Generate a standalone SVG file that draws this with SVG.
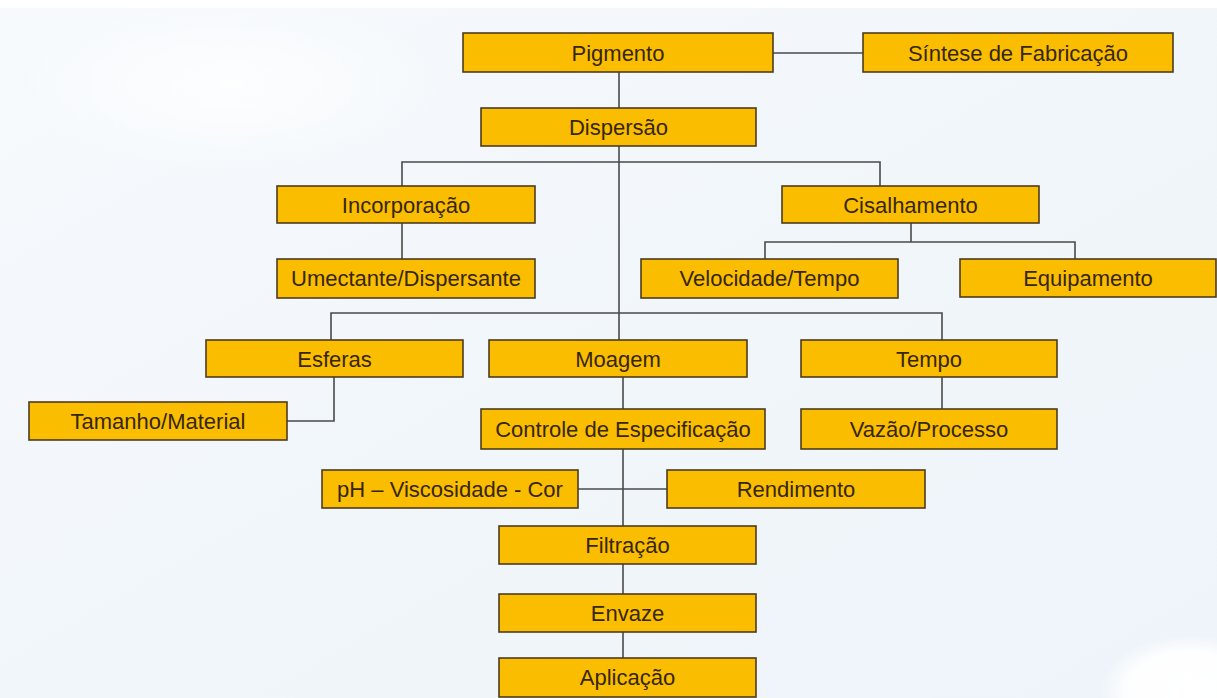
<svg xmlns="http://www.w3.org/2000/svg" width="1217" height="698" viewBox="0 0 1217 698">
<defs>
<linearGradient id="bg" x1="0" y1="0" x2="1" y2="1">
<stop offset="0" stop-color="#f7fafd"/>
<stop offset="0.5" stop-color="#f1f6fa"/>
<stop offset="1" stop-color="#eef4fa"/>
</linearGradient>
<radialGradient id="blob" cx="0.5" cy="0.5" r="0.5">
<stop offset="0" stop-color="#ffffff"/>
<stop offset="0.7" stop-color="#ffffff" stop-opacity="0.9"/>
<stop offset="1" stop-color="#ffffff" stop-opacity="0"/>
</radialGradient>
<radialGradient id="glow" cx="0.5" cy="0.5" r="0.5">
<stop offset="0" stop-color="#ffffff" stop-opacity="0.8"/>
<stop offset="1" stop-color="#ffffff" stop-opacity="0"/>
</radialGradient>
</defs>
<style>
.box{fill:#fbbd00;stroke:#4d3c1e;stroke-width:1.6}
.lbl{font-family:"Liberation Sans",Arial,sans-serif;font-size:22px;fill:#36270c;text-anchor:middle}
.ln{fill:none;stroke:#4a4a4a;stroke-width:1.6}
</style>
<rect x="0" y="0" width="1217" height="698" fill="url(#bg)"/>
<rect x="0" y="0" width="1217" height="8" fill="#ffffff"/>
<ellipse cx="230" cy="85" rx="220" ry="90" fill="url(#glow)"/>
<ellipse cx="1190" cy="690" rx="90" ry="55" fill="url(#blob)"/>
<g id="connectors">
<path class="ln" d="M773 53H863"/>
<path class="ln" d="M619 72V108"/>
<path class="ln" d="M619 146V340"/>
<path class="ln" d="M402 186V162H880V186"/>
<path class="ln" d="M402 223V259"/>
<path class="ln" d="M911 223V242"/>
<path class="ln" d="M765 259V242H1075V259"/>
<path class="ln" d="M331 340V313H942V340"/>
<path class="ln" d="M334 377V421H287"/>
<path class="ln" d="M942 377V409"/>
<path class="ln" d="M623 377V409"/>
<path class="ln" d="M623 449V526"/>
<path class="ln" d="M578 489H667"/>
<path class="ln" d="M623 564V594"/>
<path class="ln" d="M623 632V658"/>
</g>
<g id="pigmento"><rect class="box" x="463" y="33" width="310" height="39"/><text class="lbl" x="618" y="60.5">Pigmento</text></g>
<g id="sintese"><rect class="box" x="863" y="33" width="310" height="39"/><text class="lbl" x="1018" y="60.5">Síntese de Fabricação</text></g>
<g id="dispersao"><rect class="box" x="481" y="108" width="275" height="38"/><text class="lbl" x="618.5" y="135">Dispersão</text></g>
<g id="incorporacao"><rect class="box" x="277" y="186" width="258" height="37"/><text class="lbl" x="406" y="212.5">Incorporação</text></g>
<g id="cisalhamento"><rect class="box" x="782" y="186" width="257" height="37"/><text class="lbl" x="910.5" y="212.5">Cisalhamento</text></g>
<g id="umectante"><rect class="box" x="277" y="259" width="258" height="39"/><text class="lbl" x="406" y="286">Umectante/Dispersante</text></g>
<g id="velocidade"><rect class="box" x="641" y="259" width="257" height="39"/><text class="lbl" x="769.5" y="286">Velocidade/Tempo</text></g>
<g id="equipamento"><rect class="box" x="960" y="259" width="256" height="38"/><text class="lbl" x="1088" y="286">Equipamento</text></g>
<g id="esferas"><rect class="box" x="206" y="340" width="257" height="37"/><text class="lbl" x="334.5" y="366.5">Esferas</text></g>
<g id="moagem"><rect class="box" x="489" y="340" width="258" height="37"/><text class="lbl" x="618" y="366.5">Moagem</text></g>
<g id="tempo"><rect class="box" x="801" y="340" width="256" height="37"/><text class="lbl" x="929" y="366.5">Tempo</text></g>
<g id="tamanho"><rect class="box" x="29" y="402" width="258" height="38"/><text class="lbl" x="158" y="429">Tamanho/Material</text></g>
<g id="controle"><rect class="box" x="481" y="409" width="284" height="40"/><text class="lbl" x="623" y="437">Controle de Especificação</text></g>
<g id="vazao"><rect class="box" x="801" y="409" width="256" height="40"/><text class="lbl" x="929" y="437">Vazão/Processo</text></g>
<g id="ph"><rect class="box" x="322" y="470" width="256" height="38"/><text class="lbl" x="450" y="497">pH – Viscosidade - Cor</text></g>
<g id="rendimento"><rect class="box" x="667" y="470" width="258" height="38"/><text class="lbl" x="796" y="497">Rendimento</text></g>
<g id="filtracao"><rect class="box" x="499" y="526" width="257" height="38"/><text class="lbl" x="627.5" y="553">Filtração</text></g>
<g id="envaze"><rect class="box" x="499" y="594" width="257" height="38"/><text class="lbl" x="627.5" y="621">Envaze</text></g>
<g id="aplicacao"><rect class="box" x="499" y="658" width="257" height="39"/><text class="lbl" x="627.5" y="685">Aplicação</text></g>
</svg>
